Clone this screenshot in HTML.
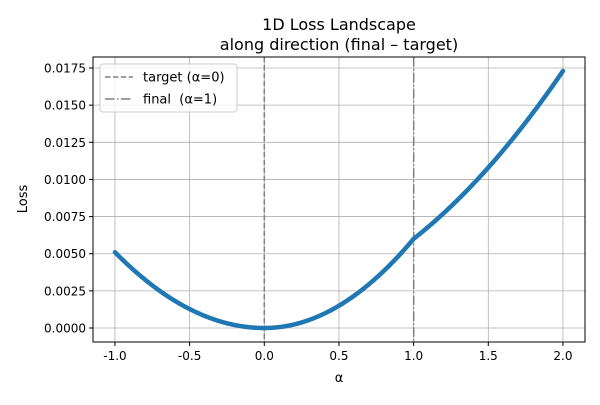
<!DOCTYPE html>
<html><head><meta charset="utf-8"><style>
body{margin:0;background:#fff}
svg{font-family:"DejaVu Sans","Liberation Sans",sans-serif}
</style></head><body>
<svg id="s" width="600" height="400" viewBox="0 0 600 400">
<rect width="600" height="400" fill="#fff"/>
<g id="grid" stroke="#b0b0b0" stroke-width="0.8"></g>
<line x1="264.3" y1="57" x2="264.3" y2="342" stroke="#808080" stroke-width="1.5" stroke-dasharray="5.5,2.4"/>
<line x1="413.7" y1="57" x2="413.7" y2="342" stroke="#808080" stroke-width="1.5" stroke-dasharray="9.6,2.4,1.5,2.4"/>
<path id="curve" fill="none" stroke="#1f77b4" stroke-width="4.5" stroke-linejoin="round" stroke-linecap="round"/>
<rect x="93" y="57" width="492" height="285" fill="none" stroke="#000" stroke-width="1"/>
<g id="ticks" font-size="12" fill="#000"></g>
<text x="339" y="30" font-size="16" text-anchor="middle">1D Loss Landscape</text>
<text x="339" y="50" font-size="16" text-anchor="middle">along direction (final – target)</text>
<text x="339" y="382" font-size="13" text-anchor="middle">α</text>
<text transform="translate(27,199) rotate(-90)" font-size="13" text-anchor="middle">Loss</text>
<rect x="100" y="64" width="137" height="48" rx="3" fill="#fff" fill-opacity="0.8" stroke="#ccc"/>
<line x1="105" y1="77" x2="133" y2="77" stroke="#808080" stroke-width="1.5" stroke-dasharray="5.5,2.4"/>
<line x1="105" y1="99" x2="133" y2="99" stroke="#808080" stroke-width="1.5" stroke-dasharray="9.6,2.4,1.5,2.4"/>
<text x="143" y="81.5" font-size="13">target (α=0)</text>
<text x="143" y="103.5" font-size="13">final&#160; (α=1)</text>
</svg>
<script>
var X=a=>264.3+a*149.33, Y=v=>328-v/0.0025*37.14;
var g=document.getElementById('grid'),t=document.getElementById('ticks');
var gh='',th='';
for(var i=-2;i<=4;i++){var a=i*0.5,x=X(a);gh+='<line x1="'+x+'" y1="57" x2="'+x+'" y2="342"/>';
th+='<line x1="'+x+'" y1="342" x2="'+x+'" y2="346" stroke="#000"/><text x="'+x+'" y="360" text-anchor="middle">'+a.toFixed(1)+'</text>';}
for(var j=0;j<=7;j++){var v=j*0.0025,y=Y(v);gh+='<line x1="93" y1="'+y+'" x2="585" y2="'+y+'"/>';
th+='<line x1="89" y1="'+y+'" x2="93" y2="'+y+'" stroke="#000"/><text x="86" y="'+(y+4.5)+'" text-anchor="end">'+v.toFixed(4)+'</text>';}
g.innerHTML=gh;t.innerHTML=th;
function f(a){if(a<0)return 0.0051*a*a;if(a<=1)return 0.006*a*a;var u=a-1;return 0.006+0.0079*u+0.0034*u*u;}
var d='';for(var k=0;k<=300;k++){var a=-1+k*0.01;d+=(k?'L':'M')+X(a).toFixed(2)+' '+Y(f(a)).toFixed(2);}
document.getElementById('curve').setAttribute('d',d);
</script>
</body></html>
